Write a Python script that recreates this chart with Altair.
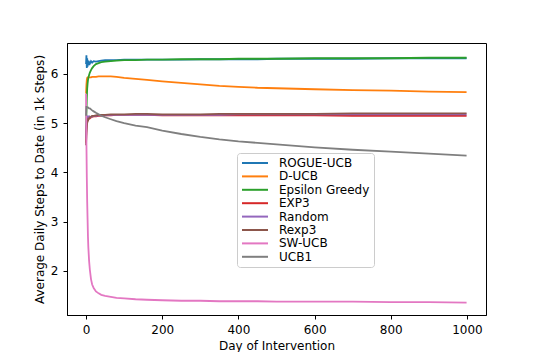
import altair as alt
import pandas as pd

days = [0, 1, 2, 3, 4, 5, 6, 8, 10, 13, 16, 20, 26, 33, 40, 50, 65, 80, 100,
        130, 160, 200, 250, 300, 350, 400, 450, 500, 600, 700, 800, 900, 999]

series_names = ["ROGUE-UCB", "D-UCB", "Epsilon Greedy", "EXP3", "Random", "Rexp3", "SW-UCB", "UCB1"]
colors = ["#1f77b4", "#ff7f0e", "#2ca02c", "#d62728", "#9467bd", "#8c564b", "#e377c2", "#7f7f7f"]

rogue_ucb = [6.20, 6.38, 6.12, 6.32, 6.15, 6.27, 6.18, 6.24, 6.21, 6.26, 6.23, 6.26, 6.25, 6.26, 6.27,
             6.28, 6.28, 6.28, 6.29, 6.29, 6.29, 6.29, 6.29, 6.30, 6.30, 6.30, 6.30, 6.31, 6.31, 6.31,
             6.32, 6.32, 6.32]
d_ucb = [5.60, 5.78, 5.88, 5.92, 5.93, 5.93, 5.93, 5.93, 5.93, 5.93, 5.94, 5.94, 5.94, 5.95, 5.95,
         5.95, 5.95, 5.94, 5.92, 5.90, 5.88, 5.85, 5.82, 5.79, 5.76, 5.74, 5.72, 5.71, 5.69, 5.67,
         5.66, 5.64, 5.63]
eps_greedy = [4.70, 5.20, 5.50, 5.70, 5.80, 5.87, 5.92, 5.98, 6.03, 6.08, 6.12, 6.16, 6.20, 6.22, 6.24,
              6.25, 6.26, 6.27, 6.28, 6.28, 6.29, 6.29, 6.30, 6.30, 6.30, 6.31, 6.31, 6.31, 6.32, 6.32,
              6.32, 6.33, 6.33]
exp3 = [4.60, 4.85, 4.95, 5.02, 5.05, 5.06, 5.08, 5.10, 5.10, 5.12, 5.13, 5.14, 5.14, 5.15, 5.15,
        5.16, 5.16, 5.17, 5.17, 5.17, 5.17, 5.16, 5.16, 5.16, 5.16, 5.16, 5.16, 5.16, 5.16, 5.15,
        5.15, 5.15, 5.15]
random_ = [4.70, 4.95, 5.05, 5.10, 5.12, 5.10, 5.12, 5.14, 5.13, 5.12, 5.14, 5.15, 5.15, 5.16, 5.16,
           5.16, 5.17, 5.17, 5.17, 5.17, 5.17, 5.17, 5.17, 5.17, 5.17, 5.18, 5.18, 5.18, 5.18, 5.18,
           5.18, 5.18, 5.18]
rexp3 = [4.55, 4.80, 4.95, 5.00, 5.05, 5.08, 5.07, 5.10, 5.12, 5.13, 5.15, 5.15, 5.16, 5.17, 5.17,
         5.17, 5.18, 5.18, 5.18, 5.19, 5.19, 5.18, 5.18, 5.18, 5.19, 5.19, 5.19, 5.19, 5.19, 5.20,
         5.20, 5.20, 5.20]
sw_ucb = [5.60, 4.60, 3.90, 3.40, 3.05, 2.70, 2.48, 2.20, 2.02, 1.83, 1.72, 1.65, 1.58, 1.54, 1.51,
          1.49, 1.47, 1.45, 1.44, 1.42, 1.41, 1.40, 1.39, 1.39, 1.38, 1.38, 1.38, 1.37, 1.37, 1.37,
          1.36, 1.36, 1.35]
ucb1 = [5.15, 5.33, 5.33, 5.32, 5.32, 5.32, 5.31, 5.30, 5.30, 5.28, 5.26, 5.24, 5.21, 5.18, 5.15,
        5.12, 5.08, 5.04, 5.00, 4.95, 4.92, 4.85, 4.78, 4.72, 4.67, 4.63, 4.60, 4.57, 4.51, 4.46,
        4.42, 4.38, 4.34]

x_ticks = [0, 200, 400, 600, 800, 1000]
y_ticks = [2, 3, 4, 5, 6]

all_values = [rogue_ucb, d_ucb, eps_greedy, exp3, random_, rexp3, sw_ucb, ucb1]
rows = []
for i, (name, vals) in enumerate(zip(series_names, all_values)):
    for d, v in zip(days, vals):
        rows.append({"day": d, "value": v, "series": name})
df = pd.DataFrame(rows)

FONT = "DejaVu Sans"

chart = alt.Chart(df).mark_line(strokeWidth=1.8, clip=True).encode(
    x=alt.X("day:Q",
            scale=alt.Scale(domain=[-50, 1050], nice=False, zero=False),
            axis=alt.Axis(values=x_ticks, title="Day of Intervention", format="d")),
    y=alt.Y("value:Q",
            scale=alt.Scale(domain=[1.10, 6.63], nice=False, zero=False),
            axis=alt.Axis(values=y_ticks, title="Average Daily Steps to Date (in 1k Steps)", format="d")),
    color=alt.Color("series:N",
                    scale=alt.Scale(domain=series_names, range=colors),
                    legend=alt.Legend(title=None, orient="none", legendX=170, legendY=110,
                                      symbolType="M-1,0H4.2", symbolSize=100, symbolStrokeWidth=2,
                                      symbolFillColor="transparent",
                                      labelFontSize=12, labelFont=FONT, labelColor="black",
                                      rowPadding=1.4, labelOffset=26, padding=4,
                                      fillColor="white", strokeColor="#cccccc", cornerRadius=3)),
    order=alt.Order("day:Q"),
).properties(
    width=419, height=272,
    autosize=alt.AutoSizeParams(type="none"),
    padding={"left": 59, "top": 35, "right": 46, "bottom": 37},
).configure_view(
    stroke="black", strokeWidth=1
).configure_axis(
    grid=False, domain=True, domainColor="black", domainWidth=1,
    tickColor="black", tickSize=4, tickWidth=1,
    labelFont=FONT, labelFontSize=12, labelColor="black", labelPadding=5,
    titleFont=FONT, titleFontSize=12, titleFontWeight="normal", titleColor="black",
).configure_axisX(titlePadding=5).configure_axisY(titlePadding=4)

chart.save("out.html", embed_options={"renderer": "svg", "actions": False})
